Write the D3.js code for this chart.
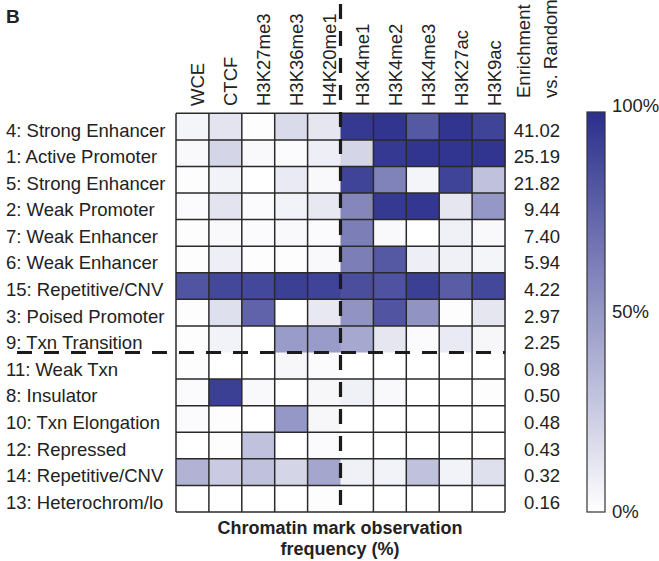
<!DOCTYPE html>
<html>
<head>
<meta charset="utf-8">
<script src="https://cdn.jsdelivr.net/npm/d3@7"></script>
<style>
  body { margin: 0; background: #fff; }
  svg { display: block; font-family: "Liberation Sans", Arial, sans-serif; }
</style>
</head>
<body>
<svg id="chart" width="659" height="561"></svg>
<script>
const states = [
  "4: Strong Enhancer", "1: Active Promoter", "5: Strong Enhancer", "2: Weak Promoter",
  "7: Weak Enhancer", "6: Weak Enhancer", "15: Repetitive/CNV", "3: Poised Promoter",
  "9: Txn Transition", "11: Weak Txn", "8: Insulator", "10: Txn Elongation",
  "12: Repressed", "14: Repetitive/CNV", "13: Heterochrom/lo"
];
const marks = ["WCE", "CTCF", "H3K27me3", "H3K36me3", "H4K20me1",
  "H3K4me1", "H3K4me2", "H3K4me3", "H3K27ac", "H3K9ac"];
const enrichment = ["41.02", "25.19", "21.82", "9.44", "7.40", "5.94", "4.22",
  "2.97", "2.25", "0.98", "0.50", "0.48", "0.43", "0.32", "0.16"];

// observation frequency (0-1), one row per state, columns in marks order
const freq = [
  [0.05, 0.13, 0.01, 0.18, 0.12, 0.95, 0.97, 0.80, 0.97, 0.90],
  [0.03, 0.20, 0.03, 0.02, 0.08, 0.20, 0.95, 0.97, 0.97, 0.97],
  [0.01, 0.06, 0.00, 0.10, 0.03, 0.90, 0.60, 0.05, 0.90, 0.30],
  [0.02, 0.13, 0.02, 0.06, 0.11, 0.58, 0.95, 0.96, 0.12, 0.50],
  [0.01, 0.03, 0.02, 0.03, 0.02, 0.62, 0.03, 0.00, 0.07, 0.03],
  [0.01, 0.08, 0.01, 0.01, 0.03, 0.62, 0.80, 0.08, 0.07, 0.05],
  [0.82, 0.88, 0.88, 0.92, 0.90, 0.85, 0.83, 0.92, 0.78, 0.88],
  [0.01, 0.15, 0.75, 0.00, 0.11, 0.52, 0.82, 0.52, 0.01, 0.12],
  [0.01, 0.06, 0.00, 0.48, 0.48, 0.42, 0.12, 0.02, 0.10, 0.04],
  [0.01, 0.00, 0.00, 0.04, 0.02, 0.00, 0.00, 0.00, 0.00, 0.00],
  [0.02, 0.92, 0.03, 0.00, 0.04, 0.07, 0.03, 0.00, 0.00, 0.01],
  [0.02, 0.01, 0.00, 0.50, 0.04, 0.00, 0.00, 0.00, 0.00, 0.00],
  [0.00, 0.01, 0.30, 0.00, 0.02, 0.00, 0.00, 0.00, 0.00, 0.00],
  [0.37, 0.25, 0.30, 0.20, 0.43, 0.07, 0.06, 0.30, 0.06, 0.15],
  [0.00, 0.00, 0.00, 0.00, 0.01, 0.00, 0.00, 0.00, 0.00, 0.00]
];
const legendTicks = [0, 50, 100];

const svg = d3.select("#chart");
const grid = { left: 176, right: 505, top: 113.3, bottom: 512 };
const fs = 18.5;

const x = d3.scaleBand().domain(marks).range([grid.left, grid.right]);
const y = d3.scaleBand().domain(states).range([grid.top, grid.bottom]);
const color = d3.scaleLinear().domain([0, 1]).range(["#ffffff", "#2b2f8c"]);

// cells
const cells = [];
freq.forEach((row, i) => row.forEach((v, j) => cells.push({ s: states[i], m: marks[j], v })));
svg.append("g").selectAll("rect").data(cells).join("rect")
  .attr("x", d => x(d.m))
  .attr("y", d => y(d.s))
  .attr("width", x.bandwidth() + 0.5)
  .attr("height", y.bandwidth() + 0.5)
  .attr("fill", d => color(d.v));

// grid lines (the split positions get dashed lines instead)
const splitCol = 5, splitRow = 9;
const gl = svg.append("g").attr("stroke", "#2a2a2a").attr("stroke-width", 1.5);
d3.range(marks.length + 1).filter(i => i !== splitCol).forEach(i => {
  const xx = grid.left + i * x.bandwidth();
  gl.append("line").attr("x1", xx).attr("x2", xx).attr("y1", grid.top).attr("y2", grid.bottom);
});
d3.range(states.length + 1).filter(i => i !== splitRow).forEach(i => {
  const yy = grid.top + i * y.bandwidth();
  gl.append("line").attr("x1", grid.left).attr("x2", grid.right).attr("y1", yy).attr("y2", yy);
});

// dashed separators
const splitX = grid.left + splitCol * x.bandwidth();
const splitY = grid.top + splitRow * y.bandwidth();
svg.append("line")
  .attr("x1", splitX).attr("x2", splitX).attr("y1", 4).attr("y2", grid.bottom)
  .attr("stroke", "#1a1a1a").attr("stroke-width", 3.2).attr("stroke-dasharray", "15,12");
svg.append("line")
  .attr("x1", 17).attr("x2", grid.right).attr("y1", splitY).attr("y2", splitY)
  .attr("stroke", "#1a1a1a").attr("stroke-width", 3.2).attr("stroke-dasharray", "15,12");

// row labels
svg.append("g").selectAll("text").data(states).join("text")
  .attr("x", 6)
  .attr("y", d => y(d) + y.bandwidth() / 2 + 10)
  .attr("font-size", fs).attr("fill", "#222")
  .text(d => d);

// column labels
svg.append("g").selectAll("text").data(marks).join("text")
  .attr("transform", d => `translate(${x(d) + x.bandwidth() / 2 + 12},106) rotate(-90)`)
  .attr("font-size", fs).attr("fill", "#222")
  .text(d => d);

// enrichment column
svg.append("g").selectAll("text").data(enrichment).join("text")
  .attr("x", 560)
  .attr("y", (d, i) => y(states[i]) + y.bandwidth() / 2 + 10)
  .attr("text-anchor", "end")
  .attr("font-size", fs).attr("fill", "#222")
  .text(d => d);

["Enrichment", "vs. Random"].forEach((t, i) => {
  svg.append("text")
    .attr("transform", `translate(${530 + i * 26.5},98) rotate(-90)`)
    .attr("font-size", fs).attr("fill", "#222")
    .text(t);
});

// colour bar
const defs = svg.append("defs");
const grad = defs.append("linearGradient").attr("id", "cbar")
  .attr("x1", 0).attr("x2", 0).attr("y1", 1).attr("y2", 0);
grad.selectAll("stop").data(d3.range(0, 1.01, 0.1)).join("stop")
  .attr("offset", d => d).attr("stop-color", d => color(d));

const cb = { x: 587, w: 18, top: 112, bottom: 512 };
const cy = d3.scaleLinear().domain([0, 100]).range([cb.bottom, cb.top]);
svg.append("rect")
  .attr("x", cb.x).attr("y", cb.top).attr("width", cb.w).attr("height", cb.bottom - cb.top)
  .attr("fill", "url(#cbar)").attr("stroke", "#333").attr("stroke-width", 1.2);
svg.append("g").selectAll("text").data(legendTicks).join("text")
  .attr("x", 612)
  .attr("y", d => cy(d))
  .attr("dy", d => d === 100 ? "0em" : "0.35em")
  .attr("font-size", fs).attr("fill", "#222")
  .text(d => d + "%");

// bottom title and panel letter
svg.append("text")
  .attr("x", 340).attr("y", 534).attr("text-anchor", "middle")
  .attr("font-size", 18).attr("font-weight", "bold").attr("fill", "#222")
  .text("Chromatin mark observation");
svg.append("text")
  .attr("x", 340).attr("y", 555).attr("text-anchor", "middle")
  .attr("font-size", 18).attr("font-weight", "bold").attr("fill", "#222")
  .text("frequency (%)");
svg.append("text")
  .attr("x", 6).attr("y", 23)
  .attr("font-size", 19).attr("font-weight", "bold").attr("fill", "#222")
  .text("B");
</script>
</body>
</html>
